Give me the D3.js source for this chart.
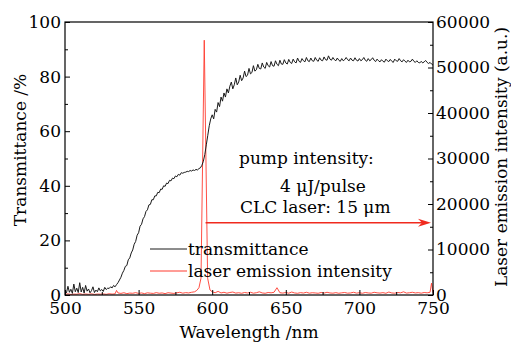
<!DOCTYPE html>
<html>
<head>
<meta charset="utf-8">
<script src="https://cdn.jsdelivr.net/npm/d3@7"></script>
<style>
body { margin: 0; background: #fff; }
text { font-family: "DejaVu Serif", serif; }
</style>
</head>
<body>
<div id="chart"></div>
<script>
// transmittance, 1 nm steps from 500 to 750 nm
var transStart = 500;
var transmittance = [
  1.5, 0.8, 3.2, 1.0, 2.1, 0.6, 4.0, 1.2, 2.5, 0.9,
  4.5, 1.1, 2.8, 0.7, 3.5, 1.4, 2.2, 0.8, 1.6, 3.0,
  0.9, 1.8, 1.2, 2.6, 1.5, 2.0, 1.3, 2.8, 2.0, 2.5,
  2.4, 3.0, 2.6, 3.5, 3.0, 3.8, 4.5, 5.5, 6.5, 8.0,
  9.0, 10.5, 10.8, 12.9, 13.6, 15.4, 16.5, 18.6, 19.6, 21.9,
  22.8, 25.2, 25.9, 27.9, 28.7, 30.6, 31.2, 33.0, 33.2, 34.9,
  34.9, 36.3, 36.3, 37.6, 37.5, 38.8, 38.7, 40.0, 39.8, 41.0,
  40.8, 42.0, 41.8, 42.8, 42.6, 43.6, 43.3, 44.2, 43.9, 44.8,
  44.6, 44.9, 45.0, 45.3, 45.2, 45.6, 45.4, 45.8, 45.6, 46.0,
  45.8, 46.3, 46.6, 47.5, 49.0, 51.5, 55.0, 58.5, 62.0, 64.5,
  66.0, 64.5, 68.0, 67.0, 70.5, 69.0, 72.5, 71.0, 74.0, 72.5,
  75.5, 74.0, 76.5, 78.0, 75.5, 77.0, 79.5, 77.0, 78.0, 80.5,
  78.5, 79.5, 82.0, 80.0, 80.5, 83.0, 81.0, 81.5, 84.0, 82.0,
  82.5, 84.5, 83.0, 82.8, 85.0, 83.5, 83.0, 85.2, 84.0, 83.5,
  85.5, 84.0, 83.8, 85.8, 84.5, 84.0, 86.0, 84.6, 84.5, 86.2,
  85.0, 84.6, 86.3, 85.2, 84.8, 86.4, 85.4, 85.0, 86.8, 85.6,
  85.2, 86.6, 85.8, 85.4, 87.0, 85.8, 85.5, 86.8, 85.8, 85.6,
  87.0, 86.0, 85.6, 86.9, 86.0, 85.8, 87.2, 86.2, 86.0, 87.6,
  86.4, 86.0, 87.0, 86.2, 85.8, 86.8, 86.0, 85.6, 86.6, 85.8,
  86.2, 87.0, 86.2, 85.8, 86.8, 86.0, 85.8, 86.9, 86.0, 85.7,
  86.6, 85.8, 86.2, 87.0, 86.0, 85.6, 86.6, 85.8, 86.2, 86.9,
  86.0, 85.5, 86.4, 85.8, 85.4, 86.2, 85.6, 85.3, 86.4, 85.8,
  85.5, 86.3, 85.6, 85.2, 86.4, 85.8, 85.6, 86.6, 85.8, 85.4,
  86.2, 85.6, 85.2, 86.0, 85.4, 85.6, 86.4, 85.6, 85.2, 85.8,
  85.2, 85.0, 85.6, 85.0, 85.4, 85.9, 85.2, 84.8, 85.2, 84.6,
  84.2
];

var laserWavelength = [
  500, 502, 504, 506, 508, 510, 512, 514, 516, 518, 520, 522, 524, 526, 528, 530, 532, 534,
  535, 536, 538, 540, 542, 544, 546, 548, 550, 552, 554, 556, 558, 560, 562, 564, 566, 568,
  570, 572, 574, 576, 578, 580, 582, 584, 586, 588, 589.5, 591, 592.4, 594.6, 596.9, 598.5,
  600, 602, 604, 606, 608, 610, 612, 614, 616, 618, 620, 622, 624, 626, 628, 630, 632, 634,
  636, 638, 640, 642, 644, 646, 648, 650, 652, 654, 656, 658, 660, 662, 664, 666, 668, 670,
  672, 674, 676, 678, 680, 682, 684, 686, 688, 690, 692, 694, 696, 698, 700, 702, 704, 706,
  708, 710, 712, 714, 716, 718, 720, 722, 724, 726, 728, 730, 732, 734, 736, 738, 740, 742,
  744, 746, 748, 749, 750
];
var laserIntensity = [
  150, 250, 120, 200, 180, 300, 140, 220, 160, 260, 130, 210, 180, 240, 150, 280, 200, 250,
  1000, 450, 350, 500, 300, 420, 380, 520, 350, 450, 300, 480, 400, 350, 520, 380, 450, 300,
  500, 420, 350, 480, 600, 400, 520, 450, 600, 700, 1000, 1600, 3700, 56000, 3700, 1100,
  700, 500, 800, 450, 600, 400, 550, 650, 420, 500, 380, 550, 450, 600, 400, 500, 700, 450,
  380, 550, 480, 600, 1600, 500, 420, 550, 400, 650, 450, 380, 520, 430, 600, 400, 500, 450,
  380, 550, 420, 600, 450, 400, 520, 380, 480, 550, 400, 450, 600, 420, 500, 380, 550, 450,
  400, 600, 480, 420, 520, 380, 650, 450, 400, 550, 480, 700, 420, 500, 600, 450, 520, 400,
  550, 480, 600, 2600, 500
];

var xTicks = [500, 550, 600, 650, 700, 750];
var xMinor = [525, 575, 625, 675, 725];
var leftTicks = [0, 20, 40, 60, 80, 100];
var leftMinor = [10, 30, 50, 70, 90];
var rightTicks = [0, 10000, 20000, 30000, 40000, 50000, 60000];
var rightMinor = [5000, 15000, 25000, 35000, 45000, 55000];

(function() {
var width = 511,
  height = 342;
var mLeft = 65, mRight = 433, mTop = 22, mBottom = 295;

var svg = d3.select("#chart")
  .append("svg")
  .attr("width", width)
  .attr("height", height)
  .style("background", "#fff");

var x = d3.scaleLinear().domain([500, 750]).range([mLeft, mRight]);
var yL = d3.scaleLinear().domain([0, 100]).range([mBottom, mTop]);
var yR = d3.scaleLinear().domain([0, 60000]).range([mBottom, mTop]);

var transData = transmittance.map(function(v, i) {
  return { w: transStart + i, v: v };
});
var laserData = laserWavelength.map(function(w, i) {
  return { w: w, v: laserIntensity[i] };
});

// laser emission (red) first, transmittance on top
svg.append("path")
  .datum(laserData)
  .attr("fill", "none")
  .attr("stroke", "#ff3b2f")
  .attr("stroke-width", 0.9)
  .attr("d", d3.line().x(function(d) { return x(d.w); }).y(function(d) { return yR(d.v); }));

svg.append("path")
  .datum(transData)
  .attr("fill", "none")
  .attr("stroke", "#1a1a1a")
  .attr("stroke-width", 1)
  .attr("d", d3.line().x(function(d) { return x(d.w); }).y(function(d) { return yL(d.v); }));

// axes, ticks pointing inward
function styleAxis(g) {
  g.select(".domain").remove();
  g.selectAll("line").attr("stroke", "#000");
  g.selectAll("text")
    .attr("fill", "#000")
    .style("font-family", "DejaVu Serif")
    .style("font-size", "17px");
}

svg.append("g")
  .attr("transform", "translate(0," + mBottom + ")")
  .call(d3.axisBottom(x).tickValues(xTicks).tickSize(-5).tickPadding(7))
  .call(styleAxis);
svg.append("g")
  .attr("transform", "translate(0," + mBottom + ")")
  .call(d3.axisBottom(x).tickValues(xMinor).tickSize(-3).tickFormat(""))
  .call(styleAxis);

svg.append("g")
  .attr("transform", "translate(" + mLeft + ",0)")
  .call(d3.axisLeft(yL).tickValues(leftTicks).tickSize(-5).tickPadding(4))
  .call(styleAxis);
svg.append("g")
  .attr("transform", "translate(" + mLeft + ",0)")
  .call(d3.axisLeft(yL).tickValues(leftMinor).tickSize(-3).tickFormat(""))
  .call(styleAxis);

svg.append("g")
  .attr("transform", "translate(" + mRight + ",0)")
  .call(d3.axisRight(yR).tickValues(rightTicks).tickSize(-5).tickPadding(3).tickFormat(d3.format("d")))
  .call(styleAxis);
svg.append("g")
  .attr("transform", "translate(" + mRight + ",0)")
  .call(d3.axisRight(yR).tickValues(rightMinor).tickSize(-3).tickFormat(""))
  .call(styleAxis);

svg.append("rect")
  .attr("x", mLeft)
  .attr("y", mTop)
  .attr("width", mRight - mLeft)
  .attr("height", mBottom - mTop)
  .attr("fill", "none")
  .attr("stroke", "#000")
  .attr("stroke-width", 1.2);

// axis titles
svg.append("text")
  .attr("x", (mLeft + mRight) / 2)
  .attr("y", 338)
  .attr("text-anchor", "middle")
  .style("font-size", "17px")
  .text("Wavelength /nm");

svg.append("text")
  .attr("transform", "translate(26,150) rotate(-90)")
  .attr("text-anchor", "middle")
  .style("font-size", "17px")
  .text("Transmittance /%");

svg.append("text")
  .attr("transform", "translate(507,157) rotate(-90)")
  .attr("text-anchor", "middle")
  .style("font-size", "17px")
  .text("Laser emission intensity (a.u.)");

// annotation
var note = svg.append("g").style("font-size", "17px");
note.append("text").attr("x", 239).attr("y", 164).text("pump intensity:");
note.append("text").attr("x", 280).attr("y", 192).text("4 \u03bcJ/pulse");
note.append("text").attr("x", 240).attr("y", 213).text("CLC laser: 15 \u03bcm");

// arrow toward the right-hand axis
var arrowFrom = [595.5, 15900],
  arrowTo = [750, 15900];
var ay = yR(arrowFrom[1]);
var tipX = x(arrowTo[0]) - 2;
svg.append("line")
  .attr("x1", x(arrowFrom[0]))
  .attr("x2", tipX - 8)
  .attr("y1", ay)
  .attr("y2", ay)
  .attr("stroke", "#f02a1e")
  .attr("stroke-width", 1.5);
svg.append("path")
  .attr("d", "M" + tipX + "," + ay + "L" + (tipX - 13) + "," + (ay - 4) + "L" + (tipX - 9) + "," + ay + "L" + (tipX - 13) + "," + (ay + 4) + "Z")
  .attr("fill", "#f02a1e");

// legend
var legend = svg.append("g").style("font-size", "17px");
legend.append("line")
  .attr("x1", 150).attr("x2", 187).attr("y1", 249).attr("y2", 249)
  .attr("stroke", "#1a1a1a").attr("stroke-width", 1);
legend.append("text").attr("x", 188).attr("y", 255).text("transmittance");
legend.append("line")
  .attr("x1", 150).attr("x2", 187).attr("y1", 271).attr("y2", 271)
  .attr("stroke", "#ff3b2f").attr("stroke-width", 1);
legend.append("text").attr("x", 188).attr("y", 277).text("laser emission intensity");
})();
</script>
</body>
</html>
